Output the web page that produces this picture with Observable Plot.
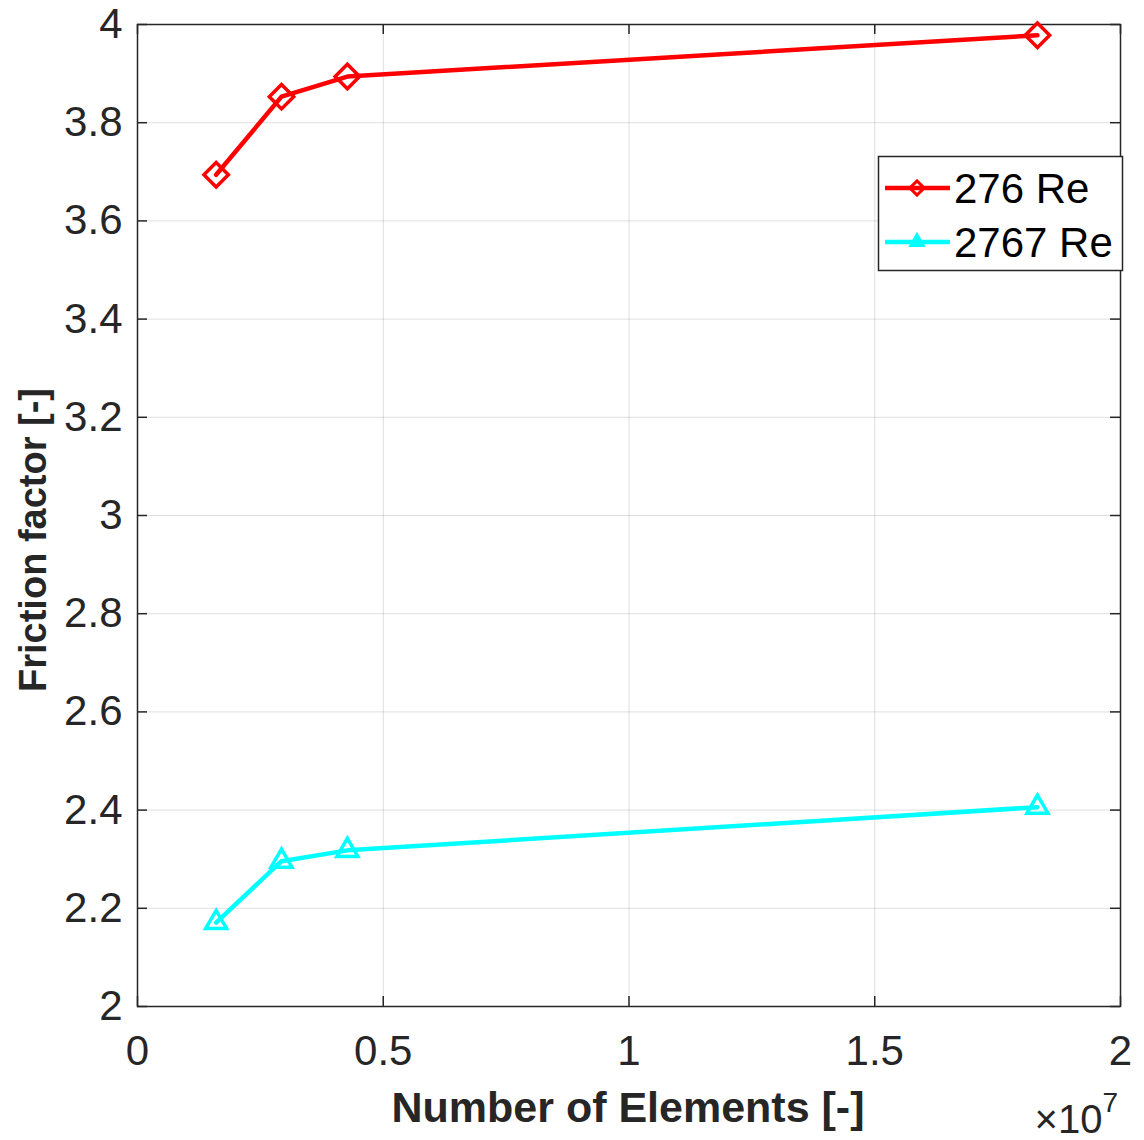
<!DOCTYPE html>
<html><head><meta charset="utf-8">
<script src="https://cdn.jsdelivr.net/npm/d3@7"></script>
<script src="https://cdn.jsdelivr.net/npm/@observablehq/plot@0.6"></script>
<style>
body{margin:0;background:#fff;}
#chart{position:relative;width:1144px;height:1140px;}
</style></head>
<body><div id="chart"></div>
<script>
const elements = [1.6e6, 2.93e6, 4.27e6, 1.831e7];
const re276 = [3.694, 3.853, 3.894, 3.978];
const re2767 = [2.171, 2.296, 2.318, 2.406];
const seriesNames = ["276 Re", "2767 Re"];
const seriesColors = ["#ff0000", "#00ffff"];
const xTicks = [0, 0.5e7, 1e7, 1.5e7, 2e7];
const xTickLabels = ["0", "0.5", "1", "1.5", "2"];
const yTicks = [2, 2.2, 2.4, 2.6, 2.8, 3, 3.2, 3.4, 3.6, 3.8, 4];

const data = [];
elements.forEach((e, i) => {
  data.push({x: e, y: re276[i], s: seriesNames[0]});
  data.push({x: e, y: re2767[i], s: seriesNames[1]});
});
const d276 = data.filter(d => d.s === seriesNames[0]);
const d2767 = data.filter(d => d.s === seriesNames[1]);

const W = 1144, H = 1140;
const mL = 137, mR = 24, mT = 24, mB = 134;
const FONT = "'Liberation Sans', Arial, Helvetica, sans-serif";
const tickLenY = 10 / (H - mT - mB) * 2;
const tickLenX = 10 / (W - mL - mR) * 2e7;

const chart = Plot.plot({
  width: W, height: H,
  marginLeft: mL, marginRight: mR, marginTop: mT, marginBottom: mB,
  style: {fontFamily: FONT, background: "#fff"},
  x: {domain: [0, 2e7]},
  y: {domain: [2, 4]},
  marks: [
    Plot.gridX(xTicks, {stroke: "#000", strokeOpacity: 0.13, strokeWidth: 1}),
    Plot.gridY(yTicks, {stroke: "#000", strokeOpacity: 0.13, strokeWidth: 1}),
    Plot.ruleX(xTicks, {x: d => d, y1: 2, y2: 2 + tickLenY, stroke: "#262626", strokeWidth: 1.5}),
    Plot.ruleX(xTicks, {x: d => d, y1: 4, y2: 4 - tickLenY, stroke: "#262626", strokeWidth: 1.5}),
    Plot.ruleY(yTicks, {y: d => d, x1: 0, x2: tickLenX, stroke: "#262626", strokeWidth: 1.5}),
    Plot.ruleY(yTicks, {y: d => d, x1: 2e7, x2: 2e7 - tickLenX, stroke: "#262626", strokeWidth: 1.5}),
    Plot.frame({stroke: "#262626", strokeWidth: 1.5}),
    Plot.line(d276, {x: "x", y: "y", stroke: seriesColors[0], strokeWidth: 4.5}),
    Plot.line(d2767, {x: "x", y: "y", stroke: seriesColors[1], strokeWidth: 4.5}),
    Plot.dot(d276, {x: "x", y: "y", symbol: "diamond2", r: 11, stroke: seriesColors[0], strokeWidth: 3.5, fill: "none"}),
    Plot.dot(d2767, {x: "x", y: "y", symbol: "triangle2", r: 10, stroke: seriesColors[1], strokeWidth: 3.5, fill: "none"}),
    Plot.axisX({ticks: xTicks, tickFormat: d => xTickLabels[xTicks.indexOf(d)], tickSize: 0, tickPadding: 29, fontSize: 42, fill: "#262626", label: null}),
    Plot.axisY({ticks: yTicks, tickFormat: d => String(+d.toFixed(1)), tickSize: 0, tickPadding: 15, fontSize: 42, fill: "#262626", label: null})
  ]
});
document.getElementById("chart").appendChild(chart);

const svg = d3.select(chart);
// axis labels
svg.append("text").attr("x", 628).attr("y", 1122).attr("text-anchor", "middle")
  .attr("font-family", FONT).attr("font-weight", "bold").attr("font-size", 43)
  .attr("fill", "#262626").text("Number of Elements [-]");
svg.append("text").attr("transform", "translate(46,540) rotate(-90)").attr("text-anchor", "middle")
  .attr("font-family", FONT).attr("font-weight", "bold").attr("font-size", 38)
  .attr("fill", "#262626").text("Friction factor [-]");
const ex = svg.append("text").attr("x", 1118).attr("y", 1133).attr("text-anchor", "end")
  .attr("font-family", FONT).attr("font-size", 40).attr("fill", "#262626");
ex.append("tspan").text("×10");
ex.append("tspan").attr("dy", -21).attr("font-size", 28).text("7");

// legend
const lg = svg.append("g");
lg.append("rect").attr("x", 878.5).attr("y", 156.5).attr("width", 244).attr("height", 114)
  .attr("fill", "#fff").attr("stroke", "#262626").attr("stroke-width", 1.5);
const rows = [{y: 188}, {y: 242}];
rows.forEach((r, i) => {
  lg.append("line").attr("x1", 885).attr("x2", 950).attr("y1", r.y).attr("y2", r.y)
    .attr("stroke", seriesColors[i]).attr("stroke-width", 4.5);
  const sym = i === 0 ? d3.symbolDiamond2 : d3.symbolTriangle2;
  const sz = i === 0 ? 130 : 110;
  lg.append("path").attr("d", d3.symbol(sym, sz)()).attr("transform", `translate(917,${r.y})`)
    .attr("fill", i === 0 ? "none" : seriesColors[i]).attr("stroke", seriesColors[i]).attr("stroke-width", 3);
  lg.append("text").attr("x", 954).attr("y", r.y + 15).attr("text-anchor", "start")
    .attr("font-family", FONT).attr("font-size", 42).attr("fill", "#000").text(seriesNames[i]);
});
</script></body></html>
